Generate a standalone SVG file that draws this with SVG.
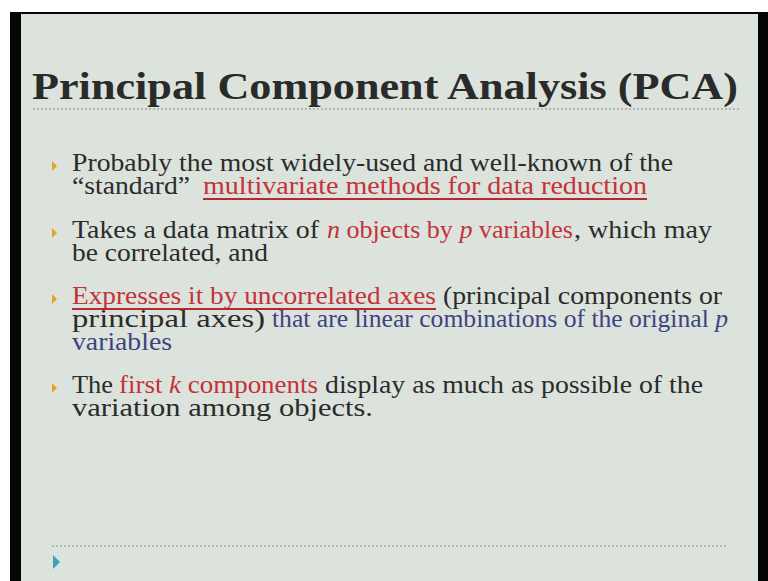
<svg xmlns="http://www.w3.org/2000/svg" width="768" height="581" viewBox="0 0 768 581">
  <defs>
    <style>
      .t { font-family: "Liberation Serif", "Times New Roman", serif; font-size: 26px; fill: #2b2b2b; }
      .r { fill: #c4323a; }
      .b { fill: #3d4480; }
      .i { font-style: italic; }
      .ttl { font-family: "Liberation Serif", "Times New Roman", serif; font-size: 38px; font-weight: bold; fill: #2a2a2a; }
      .bul { fill: #e2a32a; }
      .ul { stroke: #b8262e; stroke-width: 2; }
      .dots { stroke: #9fa9a3; stroke-width: 1.5; stroke-dasharray: 2 2; }
    </style>
  </defs>

  <!-- frame -->
  <rect x="0" y="0" width="768" height="581" fill="#ffffff"/>
  <rect x="10" y="12" width="758" height="569" fill="#050505"/>
  <rect x="21" y="14" width="737" height="567" fill="#dce3dc"/>

  <!-- title -->
  <g id="title">
    <text class="ttl" x="32" y="99" textLength="706" lengthAdjust="spacingAndGlyphs">Principal Component Analysis (PCA)</text>
    <line class="dots" x1="33" y1="109" x2="740" y2="109"/>
  </g>

  <!-- bullet 1 -->
  <g id="bullet1">
    <polygon class="bul" points="52,161 57,166 52,171"/>
    <text class="t" x="72" y="171" textLength="601" lengthAdjust="spacingAndGlyphs">Probably the most widely-used and well-known of the</text>
    <text class="t" x="72" y="194" textLength="118" lengthAdjust="spacingAndGlyphs">“standard”</text>
    <text class="t r" x="203" y="194" textLength="444" lengthAdjust="spacingAndGlyphs">multivariate methods for data reduction</text>
    <line class="ul" x1="203" y1="199" x2="647" y2="199"/>
  </g>

  <!-- bullet 2 -->
  <g id="bullet2">
    <polygon class="bul" points="52,228 57,233 52,238"/>
    <text class="t" x="72" y="238" textLength="247" lengthAdjust="spacingAndGlyphs">Takes a data matrix of</text>
    <text class="t r" x="327" y="238" textLength="246" lengthAdjust="spacingAndGlyphs"><tspan class="i">n</tspan> objects by <tspan class="i">p</tspan> variables</text>
    <text class="t" x="574" y="238" textLength="138" lengthAdjust="spacingAndGlyphs">, which may</text>
    <text class="t" x="72" y="261" textLength="196" lengthAdjust="spacingAndGlyphs">be correlated, and</text>
  </g>

  <!-- bullet 3 -->
  <g id="bullet3">
    <polygon class="bul" points="52,294 57,299 52,304"/>
    <text class="t r" x="72" y="304" textLength="364" lengthAdjust="spacingAndGlyphs">Expresses it by uncorrelated axes</text>
    <line class="ul" x1="72" y1="309" x2="436" y2="309"/>
    <text class="t" x="443" y="304" textLength="279" lengthAdjust="spacingAndGlyphs">(principal components or</text>
    <text class="t" x="72" y="327" textLength="193" lengthAdjust="spacingAndGlyphs">principal axes)</text>
    <text class="t b" x="272" y="327" textLength="456" lengthAdjust="spacingAndGlyphs">that are linear combinations of the original <tspan class="i">p</tspan></text>
    <text class="t b" x="72" y="350" textLength="100" lengthAdjust="spacingAndGlyphs">variables</text>
  </g>

  <!-- bullet 4 -->
  <g id="bullet4">
    <polygon class="bul" points="52,383 57,388 52,393"/>
    <text class="t" x="72" y="393" textLength="41" lengthAdjust="spacingAndGlyphs">The</text>
    <text class="t r" x="119" y="393" textLength="199" lengthAdjust="spacingAndGlyphs">first <tspan class="i">k</tspan> components</text>
    <text class="t" x="325" y="393" textLength="378" lengthAdjust="spacingAndGlyphs">display as much as possible of the</text>
    <text class="t" x="72" y="416" textLength="301" lengthAdjust="spacingAndGlyphs">variation among objects.</text>
  </g>

  <!-- footer -->
  <g id="footer">
    <line class="dots" x1="52" y1="546" x2="728" y2="546"/>
    <polygon fill="#3aa3bb" points="53,555 60,562 53,569"/>
  </g>
</svg>
